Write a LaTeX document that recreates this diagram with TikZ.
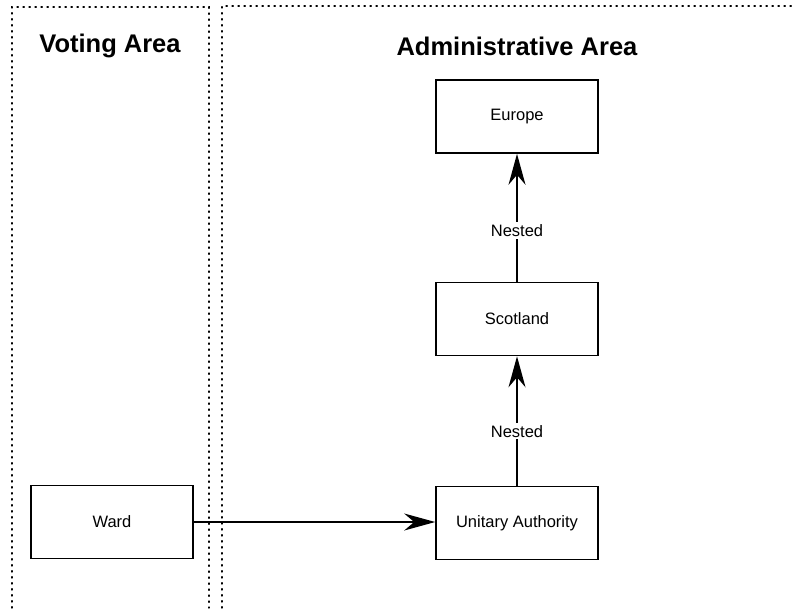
\documentclass[tikz,border=0pt]{standalone}
\usepackage{fontspec}
\setmainfont{Liberation Sans}
\usetikzlibrary{arrows.meta}
\begin{document}
\begin{tikzpicture}[x=1pt,y=-1pt,
  areabox/.style={line width=1.3pt, dash pattern=on 1.3pt off 4.7pt, line cap=round},
  entity/.style={draw, line width=1.6pt, minimum width=162pt, minimum height=73pt, inner sep=0pt, font=\fontsize{16.5}{19}\selectfont},
  title/.style={font=\fontsize{25.5}{30}\selectfont\bfseries},
  lbl/.style={fill=white, inner sep=2pt, font=\fontsize{16.5}{19}\selectfont},
  conn/.style={line width=1.5pt, -{Stealth[length=31pt, width=17pt, inset=10pt]}}]
\useasboundingbox (0,0) rectangle (799,608);
\draw[areabox] (12,608) -- (12,7) -- (209,7) -- (209,608);
\draw[areabox] (222,608) -- (222,6) -- (793,6);
\node[title] (tv) at (110,46) {Voting Area};
\node[title] (ta) at (517,46) {Administrative Area};
\node[entity] (eu) at (517,116.5) {Europe};
\node[entity] (sc) at (517,319) {Scotland};
\node[entity] (ua) at (517,523) {Unitary Authority};
\node[entity] (wd) at (112,522) {Ward};
\draw[conn] (sc.north) -- node[lbl, pos=0.4] {Nested} (eu.south);
\draw[conn] (ua.north) -- node[lbl, pos=0.42] {Nested} (sc.south);
\draw[conn] (wd.east) -- (wd.east -| ua.west);
\end{tikzpicture}
\end{document}
